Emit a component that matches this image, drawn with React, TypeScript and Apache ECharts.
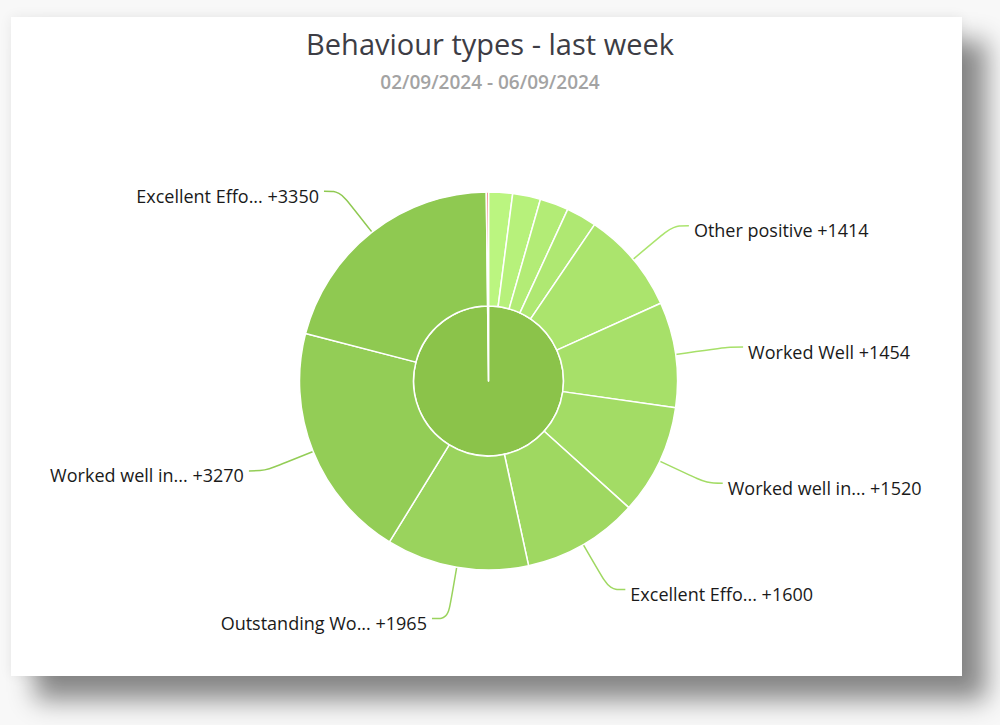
import React, { useEffect, useRef } from "react";
import * as echarts from "echarts";

const titleText = "Behaviour types - last week";
const subtitleText = "02/09/2024 - 06/09/2024";

// inner ring: behaviour groups
const groupNames = ["Positive", "Negative"];
const groupColors = ["#8bc34a", "#ee6e6e"];

// outer ring: behaviour types (clockwise from 12 o'clock)
const typeNames = [
  "Positive type 1",
  "Positive type 2",
  "Positive type 3",
  "Positive type 4",
  "Other positive",
  "Worked Well",
  "Worked well in...",
  "Excellent Effo...",
  "Outstanding Wo...",
  "Worked well in...",
  "Excellent Effo...",
  "Negative",
];
const typeValues = [330, 385, 395, 420, 1414, 1454, 1520, 1600, 1965, 3270, 3350, 30];
const typeGroup = [0, 0, 0, 0, 0, 0, 0, 0, 0, 0, 0, 1];
const typeLabelled = [false, false, false, false, true, true, true, true, true, true, true, false];
const typeColors = [
  "#bbf580",
  "#b7f17b",
  "#b3ec76",
  "#afe872",
  "#abe46d",
  "#a7e069",
  "#a3dc65",
  "#9fd861",
  "#9ad35d",
  "#93cd56",
  "#8fc951",
  "#ee6e6e",
];

export default function App() {
  const ref = useRef<HTMLDivElement>(null);

  useEffect(() => {
    if (!ref.current) return;
    const chart = echarts.init(ref.current, undefined, { renderer: "svg" });

    const groupValues = groupNames.map((_, gi) =>
      typeValues.reduce((s, v, i) => (typeGroup[i] === gi ? s + v : s), 0)
    );

    const center = [488.5, 381];

    chart.setOption({
      animation: false,
      backgroundColor: "transparent",
      title: {
        text: titleText,
        subtext: subtitleText,
        left: "center",
        top: 29,
        padding: 0,
        itemGap: 14,
        textStyle: {
          fontFamily: "Open Sans",
          fontSize: 29,
          fontWeight: "normal",
          color: "#3d3d45",
        },
        subtextStyle: {
          fontFamily: "Open Sans",
          fontSize: 19,
          fontWeight: 600,
          color: "#a3a3a3",
        },
      },
      series: [
        {
          type: "pie",
          silent: true,
          center,
          radius: [0, 75],
          startAngle: 90,
          clockwise: true,
          label: { show: false },
          labelLine: { show: false },
          itemStyle: { borderColor: "#ffffff", borderWidth: 1.5 },
          data: groupNames.map((n, i) => ({
            name: n,
            value: groupValues[i],
            itemStyle: { color: groupColors[i] },
          })),
        },
        {
          type: "pie",
          silent: true,
          center,
          radius: [75, 189],
          startAngle: 90,
          clockwise: true,
          avoidLabelOverlap: false,
          itemStyle: { borderColor: "#ffffff", borderWidth: 1.5 },
          label: {
            show: true,
            position: "outside",
            formatter: (p: any) => `{s| }\n${p.name} +${p.value}`,
            fontFamily: "Open Sans",
            fontSize: 18,
            lineHeight: 22,
            fontWeight: "normal",
            color: "#1a1a1a",
            distanceToLabelLine: 5,
            rich: {
              s: { fontSize: 1, lineHeight: 9 },
            },
          },
          labelLine: {
            show: true,
            length: 52,
            length2: 16,
            smooth: 0.35,
            lineStyle: { width: 1.5 },
          },
          data: typeNames.map((n, i) => ({
            name: n,
            value: typeValues[i],
            itemStyle: { color: typeColors[i] },
            label: { show: typeLabelled[i] },
            labelLine: { show: typeLabelled[i] },
          })),
        },
      ],
    });

    return () => chart.dispose();
  }, []);

  return (
    <div
      style={{
        position: "fixed",
        left: 0,
        top: 0,
        width: 1000,
        height: 725,
        background: "#f8f8f8",
        overflow: "hidden",
      }}
    >
      <div
        style={{
          position: "absolute",
          left: 11,
          top: 17,
          width: 951,
          height: 659,
          background: "#ffffff",
          boxShadow: "24px 24px 24px rgba(0,0,0,0.45), 0 0 12px rgba(0,0,0,0.07)",
        }}
      />
      <div
        ref={ref}
        style={{ position: "absolute", left: 0, top: 0, width: 980, height: 725 }}
      />
    </div>
  );
}
